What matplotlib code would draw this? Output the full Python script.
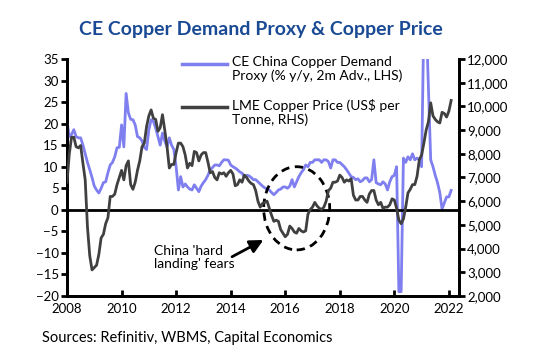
import numpy as np
import matplotlib
matplotlib.use("Agg")
import matplotlib.pyplot as plt
from matplotlib.lines import Line2D
from matplotlib.patches import Ellipse

plt.rcParams['font.family'] = ['Lato', 'DejaVu Sans']

# Monthly data, Jan 2008 - Feb 2022
demand = [
    20.4, 17, 17.5, 18.6, 17, 16.7, 16.7, 15, 13, 11, 9.3, 7.5,          # 2008
    5.5, 4.6, 3.9, 5, 6.3, 6.5, 8.6, 10.4, 11, 12.3, 14.4, 14.5,         # 2009
    19.7, 14.6, 27, 22.5, 21, 20.9, 19.7, 17, 16.7, 16, 14.5, 14,        # 2010
    18.6, 20.9, 20.5, 19, 17, 15, 17.8, 16, 14.6, 16.7, 15, 14,          # 2011
    10, 4.6, 7.7, 5.3, 6, 5.3, 4.8, 4.6, 5.8, 5, 4.2, 5.5,               # 2012
    6.3, 7, 8, 9.3, 9.8, 10.4, 10.4, 10.2, 11, 11.6, 11.6, 11.5,         # 2013
    10.4, 10, 9.7, 9.3, 8.8, 8.5, 7.7, 8, 7.9, 7.5, 7, 7,                # 2014
    6.5, 6, 5.5, 5.1, 4.8, 4.6, 4, 3.5, 4, 4.6, 4.8, 5.3,                # 2015
    5.3, 5, 5.5, 7, 5.3, 6.5, 7.7, 8.6, 9.3, 10.4, 10, 11,               # 2016
    11, 11.6, 11.6, 11.6, 11, 11.6, 11.6, 11.2, 9.7, 11.6, 11.6, 11,     # 2017
    11, 10.5, 10, 9.3, 8.5, 7.7, 7.5, 7, 7.2, 6.5, 6.8, 7.4,             # 2018
    7.4, 6.5, 7, 11.6, 6.3, 6, 5.8, 6.5, 6, 4.6, 6.5, 7.7,               # 2019
    8, 10, -19, -19, 12, 11, 12.3, 11.6, 13, 11.6, 12, 11.6,             # 2020
    10, 45, 45, 28, 11.6, 10, 8, 6.3, 4, 0.2, 1.6, 3,                    # 2021
    3, 4.5,                                                              # 2022
]

price = [
    6800, 8000, 8700, 8700, 8300, 8250, 8350, 7600, 6900, 4900, 3700, 3100,
    3200, 3300, 3750, 4450, 4600, 5050, 5300, 6200, 6200, 6300, 6700, 7000,
    7300, 6900, 7500, 7700, 6700, 6500, 6800, 7300, 7700, 8300, 8450, 9150,
    9600, 9850, 9500, 9450, 8950, 9100, 9650, 9000, 8300, 7400, 7550, 7550,
    8050, 8450, 8450, 8300, 7950, 7400, 7600, 7500, 8100, 8050, 7700, 7950,
    8050, 8050, 7650, 7200, 7250, 7000, 6900, 7200, 7150, 7200, 7050, 7200,
    7300, 7150, 6650, 6700, 6900, 6800, 7100, 7000, 6850, 6750, 6700, 6450,
    6000, 5750, 5900, 5950, 6000, 5700, 5400, 5150, 5200, 5150, 4800, 4650,
    4500, 4600, 4950, 4850, 4700, 4650, 4850, 4750, 4700, 4750, 5450, 5650,
    5750, 5950, 5800, 5700, 5650, 5750, 6000, 6450, 6550, 6800, 6800, 6850,
    7100, 7000, 6800, 6900, 6850, 6950, 6250, 6050, 6050, 6200, 6200, 6050,
    5950, 6300, 6450, 6450, 6050, 5850, 5950, 5700, 5750, 5750, 5850, 6100,
    6050, 5700, 5200, 5050, 5250, 5750, 6350, 6500, 6700, 6700, 7050, 7750,
    7950, 8450, 9000, 9350, 10150, 9600, 9450, 9350, 9300, 9750, 9700, 9550,
    9800, 10250,
]

dates = 2008 + np.arange(len(demand)) / 12.0

demand_label = "CE China Copper Demand\nProxy (% y/y, 2m Adv., LHS)"
price_label = "LME Copper Price (US$ per\nTonne, RHS)"
x_ticks = [2008, 2010, 2012, 2014, 2016, 2018, 2020, 2022]
left_ticks = list(range(-20, 40, 5))
right_ticks = list(range(2000, 13000, 1000))

blue = '#7f7ff0'
dark = '#404040'

fig = plt.figure(figsize=(5.37, 3.53), dpi=100)
ax = fig.add_axes([0.1248, 0.1615, 0.7299, 0.6714])
ax2 = ax.twinx()

ax.plot(dates, demand, color=blue, lw=2, zorder=3)
ax2.plot(dates, price, color=dark, lw=2, zorder=3)
ax.axhline(0, color='black', lw=2, zorder=4)

ax.set_xlim(2008, 2022.37)
ax.set_ylim(-20, 35)
ax2.set_ylim(2000, 12000)
ax.set_xticks(x_ticks)
ax.set_yticks(left_ticks)
ax2.set_yticks(right_ticks)
ax2.set_yticklabels([f"{v:,}" for v in right_ticks])

for a in (ax, ax2):
    for s in a.spines.values():
        s.set_linewidth(2)
    a.spines['top'].set_visible(False)
ax.tick_params(axis='y', direction='out', length=4, width=2, labelsize=9.5, pad=2)
ax2.tick_params(axis='y', direction='out', length=4, width=2, labelsize=9.5, pad=2)
ax.tick_params(axis='x', direction='in', length=4, width=2, labelsize=9.5, pad=5)

# dashed circle round the 2015-16 slump
ax.add_patch(Ellipse((2016.42, 0.35), 2.42, 19.3, fill=False, ls=(0, (3, 2)),
                     lw=2, ec='black', zorder=5))
ax.text(2011.2, -11, "China 'hard\nlanding' fears", fontsize=10, va='center',
        ha='left', linespacing=1.1)
ax.annotate("", xy=(2015.2, -7.0), xytext=(2014.05, -10.9),
            arrowprops=dict(arrowstyle='-|>,head_length=0.8,head_width=0.4',
                            color='black', lw=2, shrinkA=0, shrinkB=0))

# legend drawn by hand so the sample sits on the first text line
for y, col, lab in [(1 - 64 / 353, blue, demand_label), (1 - 107 / 353, dark, price_label)]:
    fig.add_artist(Line2D([182 / 537, 227 / 537], [y, y], color=col, lw=2.5))
    fig.text(232 / 537, y + 0.022, lab, fontsize=10, va='top', ha='left', linespacing=1.15)

fig.text(261 / 537, 1 - 30 / 353, "CE Copper Demand Proxy & Copper Price", fontsize=14,
         fontweight='bold', color='#1a4a94', ha='center', va='center')
fig.text(42 / 537, 1 - 338 / 353, "Sources: Refinitiv, WBMS, Capital Economics",
         fontsize=10.5, ha='left', va='center')

fig.savefig('out.png', dpi=100)
